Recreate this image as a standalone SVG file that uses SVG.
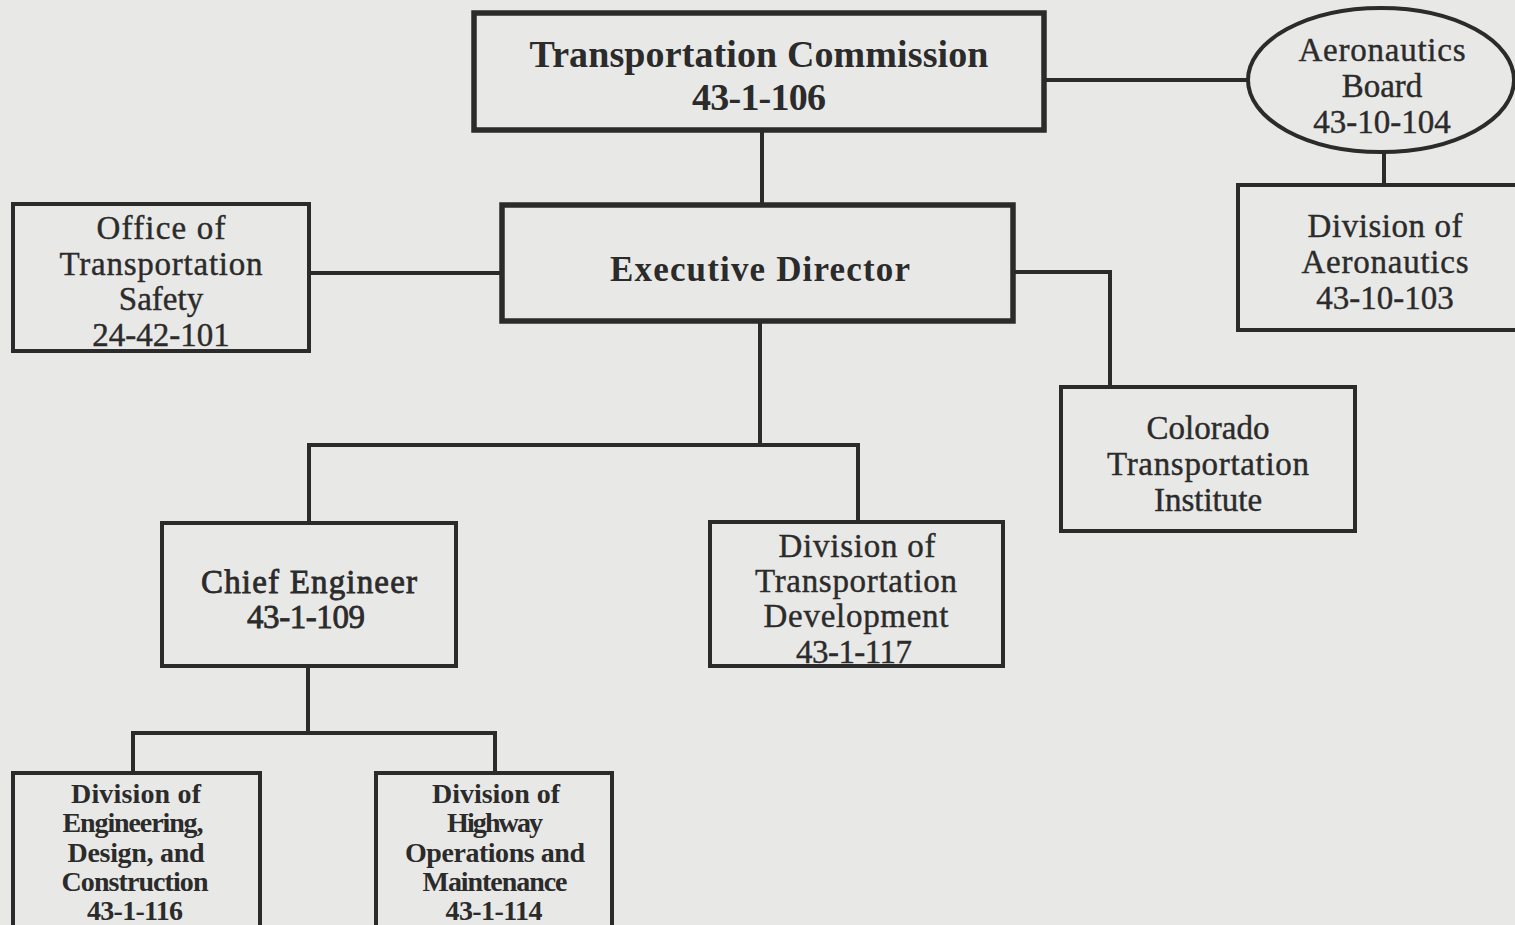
<svg xmlns="http://www.w3.org/2000/svg" width="1515" height="925" viewBox="0 0 1515 925">
<style>
.bg{fill:#e8e8e6}
.box{fill:none;stroke:#2b2b2b;stroke-width:4}
.heavy{fill:none;stroke:#2b2b2b;stroke-width:5.5}
.conn{fill:none;stroke:#2b2b2b;stroke-width:4;stroke-linejoin:miter}
text{font-family:"Liberation Serif","Times New Roman",serif;fill:#2b2b2b;text-anchor:middle}
.t1{font-size:38px;font-weight:bold}
.t2{font-size:35px;font-weight:bold}
.t3{font-size:33px;stroke:#2b2b2b;stroke-width:0.4}
.t4{font-size:33px;stroke:#2b2b2b;stroke-width:0.4}
.t5{font-size:33px;stroke:#2b2b2b;stroke-width:0.8}
.t6{font-size:28px;font-weight:bold}
</style>
<rect class="bg" x="0" y="0" width="1515" height="925"/>
<g id="connectors">
<path class="conn" d="M762,130 V205"/>
<path class="conn" d="M1044,80 H1248"/>
<path class="conn" d="M1384,152 V185"/>
<path class="conn" d="M309,273 H502"/>
<path class="conn" d="M1013,272 H1110 V387"/>
<path class="conn" d="M760,321 V445 M309,523 V445 H858 V522"/>
<path class="conn" d="M308,666 V733 M133,773 V733 H495 V773"/>
</g>
<g id="commission">
<rect class="heavy" x="474" y="13" width="570" height="117"/>
<text class="t1" x="759" y="67" textLength="459">Transportation Commission</text>
<text class="t1" x="759" y="110" textLength="134">43-1-106</text>
</g>
<g id="aeronautics-board">
<ellipse class="box" cx="1381" cy="80" rx="133" ry="72"/>
<text class="t3" x="1382" y="61" textLength="167">Aeronautics</text>
<text class="t3" x="1382" y="97">Board</text>
<text class="t3" x="1382" y="133">43-10-104</text>
</g>
<g id="division-aeronautics">
<rect class="box" x="1238" y="185" width="290" height="145"/>
<text class="t3" x="1385" y="237" textLength="155">Division of</text>
<text class="t3" x="1385" y="273" textLength="167">Aeronautics</text>
<text class="t3" x="1385" y="309">43-10-103</text>
</g>
<g id="office-safety">
<rect class="box" x="13" y="204" width="296" height="147"/>
<text class="t3" x="161" y="239" textLength="129">Office of</text>
<text class="t3" x="161" y="275" textLength="203">Transportation</text>
<text class="t3" x="161" y="310">Safety</text>
<text class="t3" x="161" y="346">24-42-101</text>
</g>
<g id="executive-director">
<rect class="heavy" x="502" y="205" width="511" height="116"/>
<text class="t2" x="760" y="281" textLength="300">Executive Director</text>
</g>
<g id="colorado-institute">
<rect class="box" x="1061" y="387" width="294" height="144"/>
<text class="t3" x="1208" y="439">Colorado</text>
<text class="t3" x="1208" y="475" textLength="202">Transportation</text>
<text class="t3" x="1208" y="511">Institute</text>
</g>
<g id="chief-engineer">
<rect class="box" x="162" y="523" width="294" height="143"/>
<text class="t5" x="309" y="593" textLength="216">Chief Engineer</text>
<text class="t5" x="306" y="628" textLength="118">43-1-109</text>
</g>
<g id="transportation-development">
<rect class="box" x="710" y="522" width="293" height="144"/>
<text class="t4" x="857" y="557" textLength="157">Division of</text>
<text class="t4" x="856" y="592" textLength="202">Transportation</text>
<text class="t4" x="856" y="627" textLength="185">Development</text>
<text class="t4" x="854" y="663" textLength="116">43-1-117</text>
</g>
<g id="engineering-design">
<rect class="box" x="13" y="773" width="247" height="160"/>
<text class="t6" x="136" y="803" textLength="130">Division of</text>
<text class="t6" x="133" y="832" textLength="141">Engineering,</text>
<text class="t6" x="136" y="862" textLength="137">Design, and</text>
<text class="t6" x="135" y="891" textLength="147">Construction</text>
<text class="t6" x="135" y="920" textLength="96">43-1-116</text>
</g>
<g id="highway-operations">
<rect class="box" x="376" y="773" width="236" height="160"/>
<text class="t6" x="496" y="803" textLength="128">Division of</text>
<text class="t6" x="495" y="832" textLength="96">Highway</text>
<text class="t6" x="495" y="862" textLength="180">Operations and</text>
<text class="t6" x="495" y="891" textLength="145">Maintenance</text>
<text class="t6" x="494" y="920" textLength="97">43-1-114</text>
</g>
</svg>
